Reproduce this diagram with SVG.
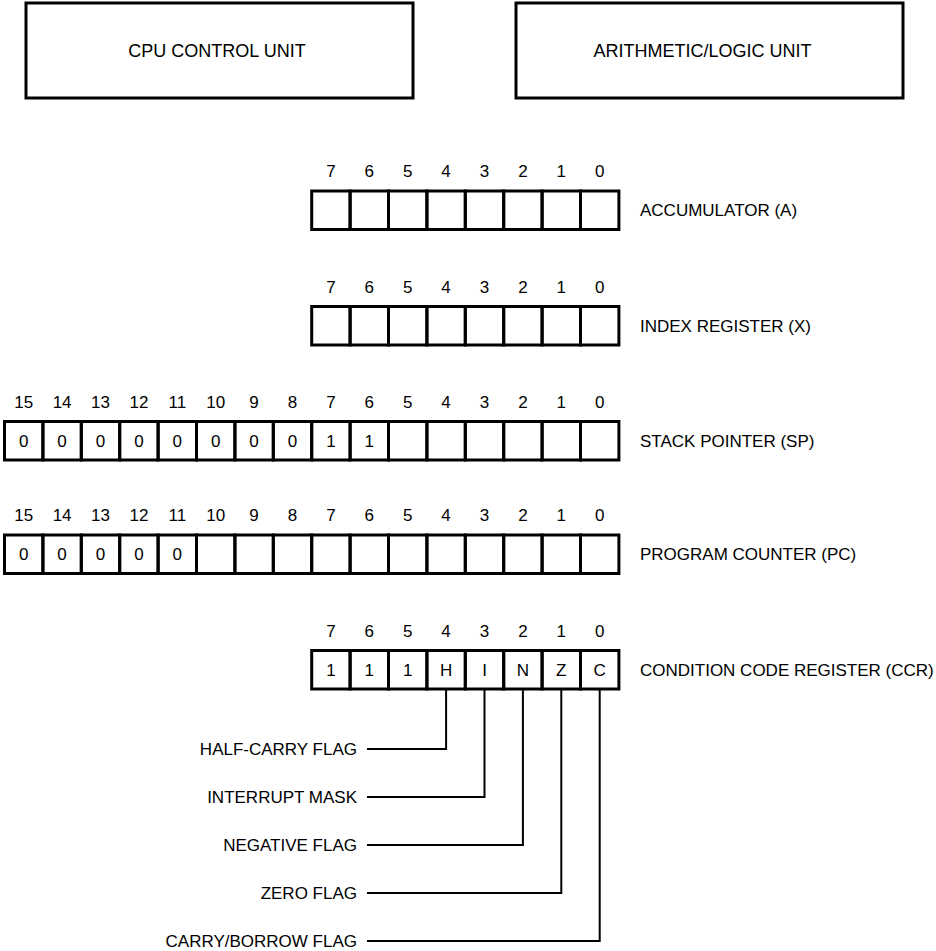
<svg xmlns="http://www.w3.org/2000/svg" width="936" height="951" viewBox="0 0 936 951">
<style>
text{font-family:"Liberation Sans",Arial,Helvetica,sans-serif;font-size:17px;fill:#000}
.big{font-size:18px;text-anchor:middle}
.c{text-anchor:middle}
.r{text-anchor:end}
.box{fill:#fff;stroke:#000;stroke-width:3}
.cell{fill:none;stroke:#000;stroke-width:3}
.conn{fill:none;stroke:#000;stroke-width:2}
</style>
<rect width="936" height="951" fill="#fff"/>
<defs>
<g id="cells8">
<rect class="cell" x="0" y="0" width="38.4" height="38.5"/>
<rect class="cell" x="38.4" y="0" width="38.4" height="38.5"/>
<rect class="cell" x="76.8" y="0" width="38.4" height="38.5"/>
<rect class="cell" x="115.2" y="0" width="38.4" height="38.5"/>
<rect class="cell" x="153.6" y="0" width="38.4" height="38.5"/>
<rect class="cell" x="192" y="0" width="38.4" height="38.5"/>
<rect class="cell" x="230.4" y="0" width="38.4" height="38.5"/>
<rect class="cell" x="268.8" y="0" width="38.4" height="38.5"/>
</g>
<g id="bits8">
<text class="c" x="19.2">7</text><text class="c" x="57.6">6</text><text class="c" x="96">5</text><text class="c" x="134.4">4</text>
<text class="c" x="172.8">3</text><text class="c" x="211.2">2</text><text class="c" x="249.6">1</text><text class="c" x="288">0</text>
</g>
<g id="bits16hi">
<text class="c" x="19.2">15</text><text class="c" x="57.6">14</text><text class="c" x="96">13</text><text class="c" x="134.4">12</text>
<text class="c" x="172.8">11</text><text class="c" x="211.2">10</text><text class="c" x="249.6">9</text><text class="c" x="288">8</text>
</g>
</defs>

<g id="cpu-control-unit">
<rect class="box" x="26" y="3" width="387" height="95"/>
<text class="big" x="217" y="57">CPU CONTROL UNIT</text>
</g>
<g id="alu">
<rect class="box" x="516" y="3" width="387" height="95"/>
<text class="big" x="702.5" y="57">ARITHMETIC/LOGIC UNIT</text>
</g>

<g id="accumulator">
<use href="#bits8" x="311.7" y="177"/>
<use href="#cells8" x="311.7" y="191"/>
<text x="640" y="216">ACCUMULATOR (A)</text>
</g>

<g id="index-register">
<use href="#bits8" x="311.7" y="292.5"/>
<use href="#cells8" x="311.7" y="306.5"/>
<text x="640" y="331.5">INDEX REGISTER (X)</text>
</g>

<g id="stack-pointer">
<use href="#bits16hi" x="4.5" y="408"/>
<use href="#bits8" x="311.7" y="408"/>
<use href="#cells8" x="4.5" y="421.5"/>
<use href="#cells8" x="311.7" y="421.5"/>
<text class="c" x="23.7" y="446.5">0</text><text class="c" x="62.1" y="446.5">0</text><text class="c" x="100.5" y="446.5">0</text><text class="c" x="138.9" y="446.5">0</text>
<text class="c" x="177.3" y="446.5">0</text><text class="c" x="215.7" y="446.5">0</text><text class="c" x="254.1" y="446.5">0</text><text class="c" x="292.5" y="446.5">0</text>
<text class="c" x="330.9" y="446.5">1</text><text class="c" x="369.3" y="446.5">1</text>
<text x="640" y="446.5">STACK POINTER (SP)</text>
</g>

<g id="program-counter">
<use href="#bits16hi" x="4.5" y="521"/>
<use href="#bits8" x="311.7" y="521"/>
<use href="#cells8" x="4.5" y="535"/>
<use href="#cells8" x="311.7" y="535"/>
<text class="c" x="23.7" y="560">0</text><text class="c" x="62.1" y="560">0</text><text class="c" x="100.5" y="560">0</text><text class="c" x="138.9" y="560">0</text>
<text class="c" x="177.3" y="560">0</text>
<text x="640" y="560">PROGRAM COUNTER (PC)</text>
</g>

<g id="condition-code-register">
<use href="#bits8" x="311.7" y="637"/>
<use href="#cells8" x="311.7" y="650.5"/>
<text class="c" x="330.9" y="675.5">1</text><text class="c" x="369.3" y="675.5">1</text><text class="c" x="407.7" y="675.5">1</text><text class="c" x="446.1" y="675.5">H</text>
<text class="c" x="484.5" y="675.5">I</text><text class="c" x="522.9" y="675.5">N</text><text class="c" x="561.3" y="675.5">Z</text><text class="c" x="599.7" y="675.5">C</text>
<text x="640" y="675.5">CONDITION CODE REGISTER (CCR)</text>
</g>

<g id="flag-half-carry"><text class="r" x="357" y="755">HALF-CARRY FLAG</text></g>
<g id="flag-interrupt"><text class="r" x="357" y="803">INTERRUPT MASK</text></g>
<g id="flag-negative"><text class="r" x="357" y="851">NEGATIVE FLAG</text></g>
<g id="flag-zero"><text class="r" x="357" y="899">ZERO FLAG</text></g>
<g id="flag-carry"><text class="r" x="357" y="947">CARRY/BORROW FLAG</text></g>

<g id="connectors">
<polyline class="conn" points="367,749 446.1,749 446.1,690"/>
<polyline class="conn" points="367,797 484.5,797 484.5,690"/>
<polyline class="conn" points="367,845 522.9,845 522.9,690"/>
<polyline class="conn" points="367,893 561.3,893 561.3,690"/>
<polyline class="conn" points="367,941 599.7,941 599.7,690"/>
</g>
</svg>
